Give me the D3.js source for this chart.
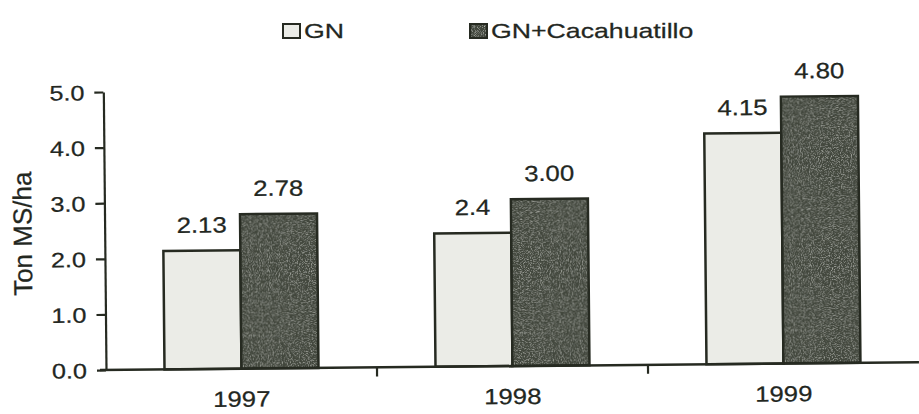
<!DOCTYPE html>
<html lang="es">
<head>
    <meta charset="UTF-8" />
    <title>Ton MS/ha - GN vs GN+Cacahuatillo</title>
    <script src="https://d3js.org/d3.v7.min.js"></script>
    <style>
        body {
            margin: 0;
            background: #fff;
        }
        svg text {
            font-family: "Liberation Sans", Arial, sans-serif;
            fill: #23271f;
            stroke: #23271f;
            stroke-width: 0.25px;
        }
    </style>
</head>
<body>
<svg id="chart"></svg>

<script>
    const years = ["1997", "1998", "1999"];
    const series = ["GN", "GN+Cacahuatillo"];
    const gn = [2.13, 2.4, 4.15];
    const gnCaca = [2.78, 3.00, 4.80];
    const gnLabels = ["2.13", "2.4", "4.15"];
    const gnCacaLabels = ["2.78", "3.00", "4.80"];
    const yTicks = [0, 1, 2, 3, 4, 5];

    const width = 919, height = 414;
    const margin = { top: 92, right: 0, bottom: 44, left: 106 };
    const ink = "#262a21";
    const fills = { "GN": "#ebece7", "GN+Cacahuatillo": "#42463d" };

    const svg = d3.select("#chart").attr("width", width).attr("height", height);

    // grainy fill for the dark bars (scanned look)
    const defs = svg.append("defs");
    const filter = defs.append("filter").attr("id", "grain")
        .attr("x", 0).attr("y", 0).attr("width", "100%").attr("height", "100%");
    filter.append("feTurbulence").attr("type", "fractalNoise")
        .attr("baseFrequency", 0.9).attr("numOctaves", 2).attr("seed", 4).attr("result", "noise");
    filter.append("feColorMatrix").attr("in", "noise").attr("type", "matrix")
        .attr("values", "0 0 0 0 0.66  0 0 0 0 0.68  0 0 0 0 0.62  0 0 0 1.5 -0.72")
        .attr("result", "spk");
    filter.append("feComposite").attr("in", "spk").attr("in2", "SourceGraphic")
        .attr("operator", "in").attr("result", "spk2");
    const merge = filter.append("feMerge");
    merge.append("feMergeNode").attr("in", "SourceGraphic");
    merge.append("feMergeNode").attr("in", "spk2");

    const pat = defs.append("pattern").attr("id", "darkFill")
        .attr("patternUnits", "userSpaceOnUse").attr("width", 120).attr("height", 320);
    pat.append("rect").attr("width", 120).attr("height", 320)
        .attr("fill", fills["GN+Cacahuatillo"]).attr("filter", "url(#grain)");

    const fillFor = s => s === "GN" ? fills.GN : "url(#darkFill)";

    const x = d3.scaleBand().domain(years).range([margin.left, width]).padding(0);
    const xs = d3.scaleBand().domain(series).range([0, x.bandwidth()])
        .paddingInner(0).paddingOuter(0.76);
    const y = d3.scaleLinear().domain([0, 5]).range([height - margin.bottom, margin.top]);

    const rows = years.map((yr, i) => ({
        year: yr,
        values: [
            { key: "GN", value: gn[i], label: gnLabels[i] },
            { key: "GN+Cacahuatillo", value: gnCaca[i], label: gnCacaLabels[i] }
        ]
    }));

    // the scan is a little tilted
    const plot = svg.append("g")
        .attr("transform", `rotate(-0.55, ${margin.left}, ${y(0)})`);

    // y axis
    const yAxis = plot.append("g")
        .attr("transform", `translate(${margin.left},0)`)
        .call(d3.axisLeft(y).tickValues(yTicks).tickFormat(d3.format(".1f"))
            .tickSize(9).tickSizeOuter(0).tickPadding(0));
    yAxis.select(".domain").attr("stroke", ink).attr("stroke-width", 2.2);
    yAxis.selectAll(".tick line").attr("stroke", ink).attr("stroke-width", 2.2);
    yAxis.selectAll(".tick text")
        .attr("x", 0).attr("dy", "0.36em")
        .attr("transform", "translate(-19,0) scale(1.2,1)")
        .attr("font-size", 21);

    plot.append("text")
        .attr("transform", `translate(33,${(y(0) + y(5)) / 2 + 2}) rotate(-90)`)
        .attr("text-anchor", "middle")
        .attr("font-size", 26)
        .text("Ton MS/ha");

    // bars
    const group = plot.selectAll("g.year")
        .data(rows)
        .join("g")
        .attr("class", "year")
        .attr("transform", d => `translate(${x(d.year)},0)`);

    group.selectAll("rect")
        .data(d => d.values)
        .join("rect")
        .attr("x", d => xs(d.key))
        .attr("y", d => y(d.value))
        .attr("width", xs.bandwidth())
        .attr("height", d => y(0) - y(d.value))
        .attr("fill", d => fillFor(d.key))
        .attr("stroke", ink)
        .attr("stroke-width", 2.5);

    group.selectAll("text.val")
        .data(d => d.values)
        .join("text")
        .attr("class", "val")
        .attr("text-anchor", "middle")
        .attr("font-size", 22)
        .attr("transform", d => `translate(${xs(d.key) + xs.bandwidth() / 2},${y(d.value) - 18}) scale(1.17,1)`)
        .text(d => d.label);

    // x axis: line with ticks between the year groups
    plot.append("line")
        .attr("x1", margin.left - 6).attr("x2", width)
        .attr("y1", y(0)).attr("y2", y(0))
        .attr("stroke", ink).attr("stroke-width", 2.5);

    plot.selectAll("line.xtick")
        .data(years.slice(0, -1))
        .join("line")
        .attr("class", "xtick")
        .attr("x1", d => x(d) + x.step()).attr("x2", d => x(d) + x.step())
        .attr("y1", y(0)).attr("y2", y(0) + 9)
        .attr("stroke", ink).attr("stroke-width", 2.2);

    plot.selectAll("text.year")
        .data(years)
        .join("text")
        .attr("class", "year")
        .attr("text-anchor", "middle")
        .attr("font-size", 22)
        .attr("transform", d => `translate(${x(d) + x.bandwidth() / 2},${y(0) + 38}) scale(1.17,1)`)
        .text(d => d);

    // legend
    const legendX = [283, 470];
    const legend = svg.selectAll("g.legend")
        .data(series)
        .join("g")
        .attr("class", "legend")
        .attr("transform", (d, i) => `translate(${legendX[i]},24)`);

    legend.append("rect")
        .attr("width", 17).attr("height", 14)
        .attr("fill", d => fillFor(d))
        .attr("stroke", ink)
        .attr("stroke-width", 2);

    legend.append("text")
        .attr("transform", "translate(21,14) scale(1.27,1)")
        .attr("font-size", 21)
        .text(d => d);
</script>
</body>
</html>
